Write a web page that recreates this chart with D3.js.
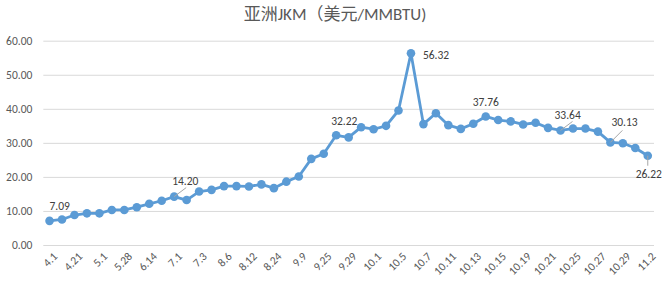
<!DOCTYPE html>
<html>
<head>
<meta charset="utf-8">
<script src="https://cdn.jsdelivr.net/npm/d3@7"></script>
<style>
	body { margin: 0; background: #fff; }
	text { font-family: Calibri, Carlito, Lato, "Liberation Sans", "Noto Sans CJK SC", sans-serif; }
</style>
</head>
<body>
<script>
var title = '亚洲JKM（美元/MMBTU)';

// one tick label for every other point
var tickLabels = ['4.1', '4.21', '5.1', '5.28', '6.14', '7.1', '7.3', '8.6', '8.12', '8.24', '9.9', '9.25', '9.29',
	'10.1', '10.5', '10.7', '10.11', '10.13', '10.15', '10.19', '10.21', '10.25', '10.27', '10.29', '11.2'];

var values = [7.09, 7.5, 8.8, 9.3, 9.3, 10.3, 10.3, 11.1, 12.1, 13.0, 14.20, 13.2, 15.7, 16.2, 17.3, 17.3,
	17.2, 17.8, 16.7, 18.6, 20.1, 25.3, 26.8, 32.22, 31.6, 34.6, 34.0, 35.0, 39.5, 56.32,
	35.5, 38.7, 35.2, 34.1, 35.6, 37.76, 36.7, 36.3, 35.4, 35.9, 34.4, 33.64, 34.2, 34.2,
	33.3, 30.13, 29.9, 28.5, 26.22];

// index of labelled point, label offset
var labelled = [
	{i: 0, dx: 0, dy: -11, anchor: 'start', lead: false},
	{i: 10, dx: -2, dy: -12, anchor: 'start', lead: true},
	{i: 23, dx: -5, dy: -10, anchor: 'start', lead: false},
	{i: 29, dx: 12, dy: 6, anchor: 'start', lead: false},
	{i: 35, dx: 0, dy: -10, anchor: 'middle', lead: false},
	{i: 41, dx: -6, dy: -11, anchor: 'start', lead: true},
	{i: 45, dx: 1, dy: -16, anchor: 'start', lead: true},
	{i: 48, dx: 1, dy: 22, anchor: 'middle', lead: true}
];

var width = 667, height = 286;
var plotLeft = 43.3, plotRight = 654, plotTop = 40.7, plotBottom = 245;

var svg = d3.select('body').append('svg')
	.attr('width', width)
	.attr('height', height);

var x = d3.scalePoint()
	.domain(d3.range(values.length))
	.range([plotLeft, plotRight])
	.padding(0.5);

var y = d3.scaleLinear()
	.domain([0, 60])
	.range([plotBottom, plotTop]);

svg.append('text')
	.attr('x', 335)
	.attr('y', 20)
	.attr('text-anchor', 'middle')
	.attr('fill', '#595959')
	.style('font-size', '17px')
	.text(title);

var yAxis = d3.axisLeft(y)
	.tickValues(d3.range(0, 61, 10))
	.tickSize(-(plotRight - plotLeft))
	.tickPadding(11)
	.tickFormat(d3.format('.2f'));

var gy = svg.append('g')
	.attr('transform', 'translate(' + plotLeft + ',0)')
	.call(yAxis);
gy.select('.domain').remove();
gy.selectAll('line').attr('stroke', '#d9d9d9').attr('stroke-width', 1);
gy.selectAll('text').attr('fill', '#595959').style('font-size', '11.5px');

var xAxis = d3.axisBottom(x)
	.tickValues(d3.range(0, values.length, 2))
	.tickSize(0)
	.tickFormat(function(d) {
		return tickLabels[d / 2];
	});

var gx = svg.append('g')
	.attr('transform', 'translate(0,' + plotBottom + ')')
	.call(xAxis);
gx.select('.domain').remove();
gx.selectAll('text')
	.attr('fill', '#595959')
	.style('font-size', '11.5px')
	.attr('text-anchor', 'end')
	.attr('dy', null)
	.attr('transform', 'translate(6,10) rotate(-45)');

var line = d3.line()
	.x(function(d, i) { return x(i); })
	.y(function(d) { return y(d); });

svg.append('path')
	.datum(values)
	.attr('fill', 'none')
	.attr('stroke', '#5b9bd5')
	.attr('stroke-width', 2.8)
	.attr('stroke-linejoin', 'round')
	.attr('d', line);

svg.selectAll('circle')
	.data(values)
	.enter()
	.append('circle')
	.attr('cx', function(d, i) { return x(i); })
	.attr('cy', function(d) { return y(d); })
	.attr('r', 4.3)
	.attr('fill', '#5b9bd5');

var labels = svg.selectAll('g.lbl')
	.data(labelled)
	.enter()
	.append('g')
	.attr('class', 'lbl');

labels.filter(function(d) { return d.lead; })
	.append('line')
	.attr('x1', function(d) { return x(d.i); })
	.attr('y1', function(d) { return y(values[d.i]); })
	.attr('x2', function(d) {
		if (d.i === 48) return x(d.i);
		return x(d.i) + 12;
	})
	.attr('y2', function(d) {
		if (d.i === 48) return y(values[d.i]) + 10;
		return y(values[d.i]) - (d.dy < -12 ? 12 : 9);
	})
	.attr('stroke', '#a6a6a6')
	.attr('stroke-width', 1);

labels.append('text')
	.attr('x', function(d) { return x(d.i) + d.dx; })
	.attr('y', function(d) { return y(values[d.i]) + d.dy; })
	.attr('text-anchor', function(d) { return d.anchor; })
	.attr('fill', '#404040')
	.style('font-size', '11.5px')
	.text(function(d) { return values[d.i].toFixed(2); });
</script>
</body>
</html>
